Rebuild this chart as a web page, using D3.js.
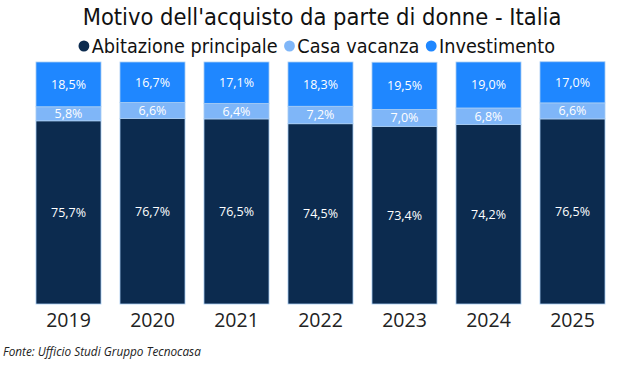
<!DOCTYPE html>
<html>
<head>
<script src="https://d3js.org/d3.v7.min.js"></script>
<style>
  body { margin: 0; background: #fff; }
  text { font-family: "Open Sans", "Noto Sans", sans-serif; }
  .title, .legend text { font-family: "Liberation Sans Narrow", "DejaVu Sans Condensed", "Roboto", sans-serif; }
</style>
</head>
<body>
<div id="chart"></div>
<script>
const width = 643, height = 367

const years = ["2019", "2020", "2021", "2022", "2023", "2024", "2025"]
const series = ["Abitazione principale", "Casa vacanza", "Investimento"]
const abitazione = [75.7, 76.7, 76.5, 74.5, 73.4, 74.2, 76.5]
const vacanza = [5.8, 6.6, 6.4, 7.2, 7.0, 6.8, 6.6]
const investimento = [18.5, 16.7, 17.1, 18.3, 19.5, 19.0, 17.0]
const colors = ["#0c2b4f", "#7fb6f8", "#1f87ff"]

const rows = years.map((y, i) => ({
  year: y,
  "Abitazione principale": abitazione[i],
  "Casa vacanza": vacanza[i],
  "Investimento": investimento[i]
}))
const stacked = d3.stack().keys(series)(rows)

const svg = d3.select("#chart").append("svg")
  .attr("width", width).attr("height", height)

const x = d3.scaleBand().domain(years).range([26.5, 614.5]).paddingInner(0.226).paddingOuter(0.113)
const y = d3.scaleLinear().domain([0, 100]).range([304, 62])

// title
const title = svg.append("text").attr("class", "title")
  .attr("x", 322).attr("y", 25)
  .attr("text-anchor", "middle")
  .attr("font-size", 24).attr("fill", "#111")
  .text("Motivo dell'acquisto da parte di donne - Italia")
const tw = title.node().getComputedTextLength()
title.attr("font-size", 24 * 479 / tw)

// legend
const legend = svg.append("g").attr("class", "legend")
let lx = 84
series.forEach((s, i) => {
  legend.append("circle").attr("cx", lx).attr("cy", 46).attr("r", 5.5).attr("fill", colors[i])
  const t = legend.append("text").attr("x", lx + 8).attr("y", 53)
    .attr("font-size", 20).attr("fill", "#111").text(s)
  lx += 8 + t.node().getComputedTextLength() + 12
})
// fit legend width to ~476px
const lw = lx - 12 - 79
legend.attr("transform", `translate(79,0) scale(${476 / lw},1) translate(-79,0)`)

// bars
const layers = svg.append("g").selectAll("g").data(stacked).join("g")
  .attr("fill", (d, i) => colors[i])
layers.selectAll("rect").data(d => d).join("rect")
  .attr("x", d => x(d.data.year))
  .attr("width", x.bandwidth())
  .attr("y", d => y(d[1]))
  .attr("height", d => y(d[0]) - y(d[1]))
  .attr("stroke", "#a9cdf3").attr("stroke-width", 0.8)

// value labels
stacked.forEach((layer, i) => {
  svg.append("g").selectAll("text").data(layer).join("text")
    .attr("x", d => x(d.data.year) + x.bandwidth() / 2)
    .attr("y", d => (y(d[0]) + y(d[1])) / 2 + 4.5)
    .attr("text-anchor", "middle")
    .attr("font-size", 12.5).attr("fill", "#fff")
    .text(d => d3.format(".1f")(d[1] - d[0]).replace(".", ",") + "%")
})

// x axis
const xAxis = svg.append("g").attr("transform", "translate(0,304)")
  .call(d3.axisBottom(x).tickSize(0).tickPadding(9))
xAxis.select(".domain").remove()
xAxis.selectAll("text").attr("font-size", 19.5).attr("fill", "#222")
  .attr("font-family", "Open Sans, sans-serif")

// source
svg.append("text").attr("x", 3).attr("y", 356)
  .attr("font-size", 11.8).attr("font-style", "italic").attr("fill", "#222")
  .text("Fonte: Ufficio Studi Gruppo Tecnocasa")
</script>
</body>
</html>
